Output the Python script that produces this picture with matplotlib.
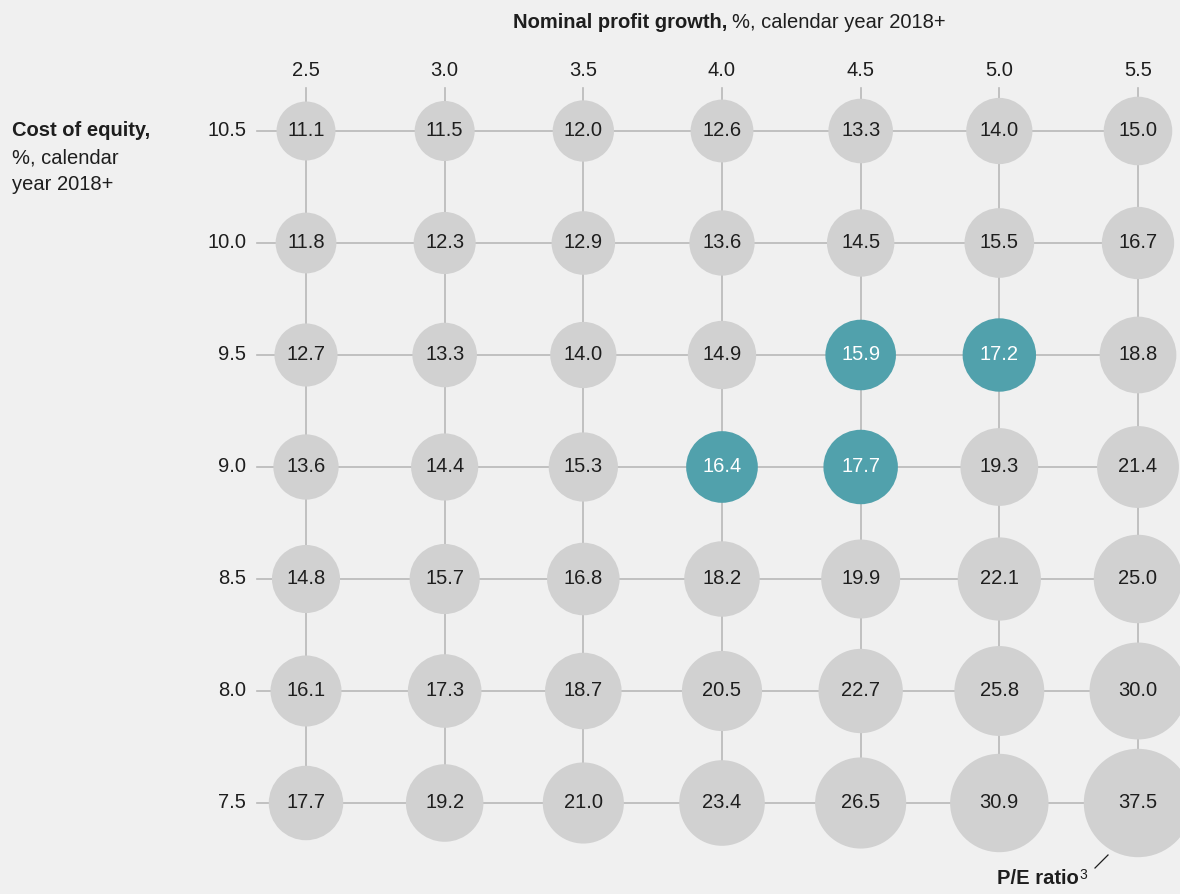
import matplotlib
matplotlib.use("Agg")
import matplotlib.pyplot as plt
import numpy as np

plt.rcParams['font.family'] = ['Liberation Sans', 'DejaVu Sans']

growth = [2.5, 3.0, 3.5, 4.0, 4.5, 5.0, 5.5]
cost_of_equity = [10.5, 10.0, 9.5, 9.0, 8.5, 8.0, 7.5]
pe_ratio = [
    [11.1, 11.5, 12.0, 12.6, 13.3, 14.0, 15.0],
    [11.8, 12.3, 12.9, 13.6, 14.5, 15.5, 16.7],
    [12.7, 13.3, 14.0, 14.9, 15.9, 17.2, 18.8],
    [13.6, 14.4, 15.3, 16.4, 17.7, 19.3, 21.4],
    [14.8, 15.7, 16.8, 18.2, 19.9, 22.1, 25.0],
    [16.1, 17.3, 18.7, 20.5, 22.7, 25.8, 30.0],
    [17.7, 19.2, 21.0, 23.4, 26.5, 30.9, 37.5],
]
highlight = [(9.5, 4.5), (9.5, 5.0), (9.0, 4.0), (9.0, 4.5)]

BG = '#f0f0f0'
GREY = '#d1d1d1'
TEAL = '#51a1ac'
LINE = '#b8b8b8'
TXT = '#1e1e1e'

W, H = 1180, 894
fig = plt.figure(figsize=(W / 100, H / 100), dpi=100, facecolor=BG)
ax = fig.add_axes([0, 0, 1, 1])
ax.set_facecolor(BG)
ax.axis('off')

xs = 277.33  # px per unit growth
ys = 224.0   # px per unit cost
ax.set_xlim(2.5 - 306 / xs, 2.5 + (W - 306) / xs)
ax.set_ylim(10.5 - (H - 131) / ys, 10.5 + 131 / ys)

x_left = growth[0] - 49 / xs
y_top = cost_of_equity[0] + 43 / ys

for c in cost_of_equity:
    ax.plot([x_left, growth[-1]], [c, c], color=LINE, lw=1.2, zorder=1)
for g in growth:
    ax.plot([g, g], [y_top, cost_of_equity[-1]], color=LINE, lw=1.2, zorder=1)

fs = 14.5
scale = 4 * (0.72 * 8.85) ** 2
for i, c in enumerate(cost_of_equity):
    for j, g in enumerate(growth):
        v = pe_ratio[i][j]
        hi = (c, g) in highlight
        ax.scatter([g], [c], s=scale * v, color=TEAL if hi else GREY,
                   edgecolors='none', zorder=2)
        ax.text(g, c, f"{v:.1f}", ha='center', va='center', fontsize=fs,
                color='white' if hi else TXT, zorder=3)

for g in growth:
    ax.text(g, cost_of_equity[0] + 61 / ys, f"{g:.1f}", ha='center', va='center',
            fontsize=fs, color=TXT)
for c in cost_of_equity:
    ax.text(growth[0] - 60 / xs, c, f"{c:.1f}", ha='right', va='center',
            fontsize=fs, color=TXT)

renderer = fig.canvas.get_renderer()

t1 = fig.text(513 / W, 1 - 22 / H, "Nominal profit growth,", fontsize=fs,
              fontweight='bold', color=TXT, ha='left', va='center')
bb = t1.get_window_extent(renderer)
fig.text((bb.x1 + 5) / W, 1 - 22 / H, "%, calendar year 2018+", fontsize=fs,
         color=TXT, ha='left', va='center')

fig.text(12 / W, 1 - 131 / H, "Cost of equity,", fontsize=fs, fontweight='bold',
         color=TXT, ha='left', va='center')
fig.text(12 / W, 1 - 158 / H, "%, calendar", fontsize=fs, color=TXT,
         ha='left', va='center')
fig.text(12 / W, 1 - 184 / H, "year 2018+", fontsize=fs, color=TXT,
         ha='left', va='center')

t3 = fig.text(997 / W, 1 - 878 / H, "P/E ratio", fontsize=fs, fontweight='bold',
              color=TXT, ha='left', va='center')
bb3 = t3.get_window_extent(renderer)
fig.text((bb3.x1 + 1) / W, 1 - 875 / H, "3", fontsize=10, color=TXT,
         ha='left', va='center')
fig.add_artist(plt.Line2D([1095 / W, 1108 / W], [1 - 868 / H, 1 - 855 / H],
                          color=TXT, lw=0.9))

fig.savefig("out.png", dpi=100, facecolor=BG)
